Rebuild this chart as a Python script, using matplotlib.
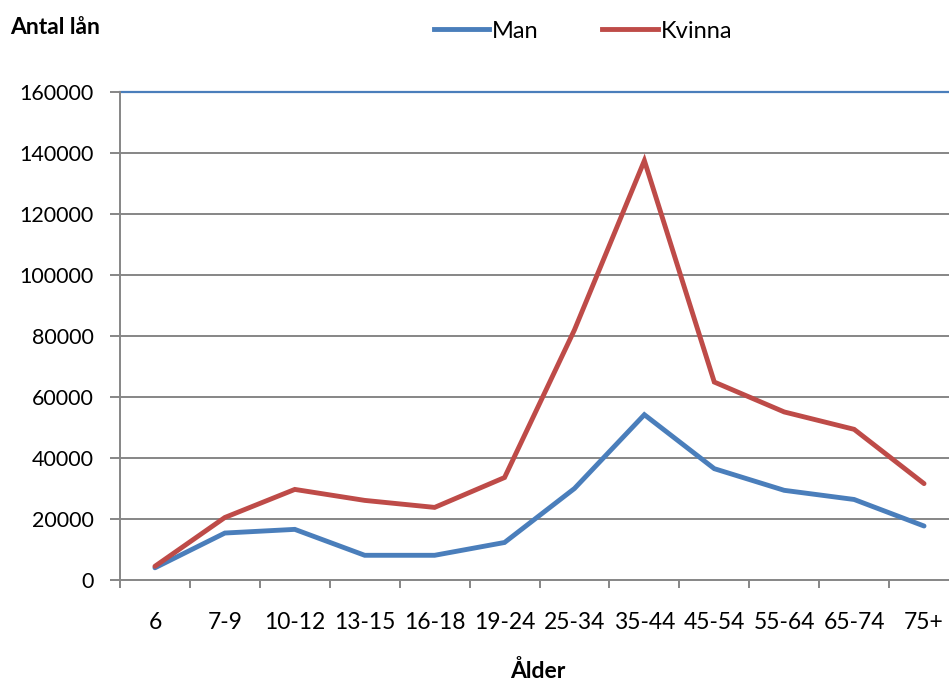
import matplotlib
matplotlib.use("Agg")
import matplotlib.pyplot as plt
from matplotlib.lines import Line2D
import numpy as np

plt.rcParams['font.family'] = ['Lato', 'DejaVu Sans']

categories = ["6", "7-9", "10-12", "13-15", "16-18", "19-24", "25-34",
              "35-44", "45-54", "55-64", "65-74", "75+"]
man = [4000, 15400, 16600, 8100, 8100, 12300, 30000, 54200, 36500, 29400, 26400, 17700]
kvinna = [4500, 20500, 29700, 26100, 23800, 33600, 82000, 137500, 64900, 55100, 49400, 31600]
yticks = [0, 20000, 40000, 60000, 80000, 100000, 120000, 140000, 160000]

W, H = 949, 684
fig = plt.figure(figsize=(W / 100, H / 100), dpi=100)
left, right = 120, 959
bottom, top = 580, 92
ax = fig.add_axes([left / W, 1 - bottom / H, (right - left) / W, (bottom - top) / H])

blue = "#4A7EBB"
red = "#BE4B48"
grid = "#868686"

x = np.arange(len(categories))
ax.plot(x, man, color=blue, lw=3.5, solid_joinstyle='miter', solid_capstyle='round', label="Man", zorder=3)
ax.plot(x, kvinna, color=red, lw=3.5, solid_joinstyle='miter', solid_capstyle='round', label="Kvinna", zorder=3)

ax.set_xlim(-0.5, len(categories) - 0.5)
ax.set_ylim(0, 160000)
ax.set_yticks(yticks)
ax.set_yticklabels([str(v) for v in yticks])
for v in yticks[1:-1]:
    ax.axhline(v, color=grid, lw=1.4, zorder=1)
ax.axhline(160000, color=blue, lw=1.6, zorder=1, clip_on=False)

ax.set_xticks(x)
ax.set_xticklabels(categories)
ax.set_xticks(np.arange(-0.5, len(categories)), minor=True)
ax.tick_params(axis='x', which='major', length=0, pad=23, labelsize=16.5, colors='black')
ax.tick_params(axis='x', which='minor', length=6, width=1.4, color=grid, direction='out')
ax.tick_params(axis='y', length=7, width=1.4, color=grid, direction='out', labelsize=15.5, pad=12)

for s in ['top', 'right']:
    ax.spines[s].set_visible(False)
for s in ['left', 'bottom']:
    ax.spines[s].set_color(grid)
    ax.spines[s].set_linewidth(1.4)

fig.text(10 / W, 1 - 27 / H, "Antal lån", ha='left', va='center', fontsize=16.5, fontweight='bold')
fig.text(538 / W, 1 - 671 / H, "Ålder", ha='center', va='center', fontsize=16.5, fontweight='bold')

handles = [Line2D([], [], color=blue, lw=3.5), Line2D([], [], color=red, lw=3.5)]
fig.legend(handles, ["Man", "Kvinna"], loc='center', bbox_to_anchor=(583 / W, 1 - 31 / H),
           ncol=2, frameon=False, fontsize=17, handlelength=2.35, handletextpad=0.12,
           columnspacing=2.7)

fig.savefig("out.png", dpi=100)
